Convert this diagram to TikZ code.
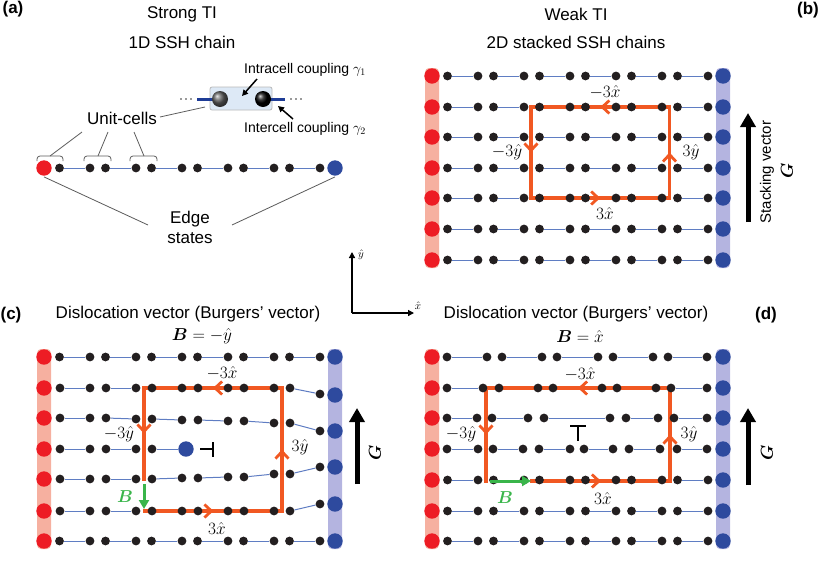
\documentclass[tikz,border=0pt]{standalone}
\usepackage{fontspec}
\setmainfont{Liberation Sans}
\usepackage{amsmath,bm}
\usetikzlibrary{arrows.meta,decorations.markings,shadings}
\pgfdeclarelayer{bars}\pgfdeclarelayer{lines}\pgfdeclarelayer{loop}\pgfdeclarelayer{top}
\pgfsetlayers{bars,lines,loop,main,top}
\definecolor{dred}{RGB}{237,28,36}
\definecolor{dblue}{RGB}{46,74,158}
\definecolor{barred}{RGB}{246,176,160}
\definecolor{barblue}{RGB}{180,180,224}
\definecolor{chainc}{RGB}{95,125,195}
\definecolor{dotk}{RGB}{35,31,32}
\definecolor{loopc}{RGB}{241,88,34}
\definecolor{greenc}{RGB}{57,181,74}
\definecolor{boxfill}{RGB}{221,233,246}
\definecolor{insetline}{RGB}{30,60,150}
\definecolor{graylinec}{RGB}{90,90,90}
\tikzset{
  bdot/.style={circle,fill=dotk,inner sep=0pt,minimum size=8.8pt},
  rdot/.style={circle,fill=dred,inner sep=0pt,minimum size=15.4pt},
  bludot/.style={circle,fill=dblue,inner sep=0pt,minimum size=15.4pt},
  chainline/.style={draw=chainc,line width=1.0pt},
  loopline/.style={draw=loopc,line width=3.3pt,line cap=rect},
  midarr/.style={postaction={decorate},decoration={markings,mark=at position 0.5 with {\arrow{Straight Barb[length=7pt,width=13pt,line width=2.8pt]}}}},
  greenarr/.style={draw=greenc,line width=3pt,-{Triangle[length=9pt,width=10pt]}},
  txt/.style={font=\fontsize{17}{20}\selectfont,inner sep=0pt},
  smalltxt/.style={font=\fontsize{14}{17}\selectfont,inner sep=0pt},
  plbl/.style={font=\fontsize{17}{20}\selectfont\bfseries,inner sep=0pt},
  mlbl/.style={font=\fontsize{17}{20}\selectfont,inner sep=0pt},
  gline/.style={draw=graylinec,line width=0.8pt},
  barR/.style={fill=barred,rounded corners=4pt},
  barB/.style={fill=barblue,rounded corners=4pt},
  garrow/.style={draw=black,line width=5pt,-{Triangle[length=14pt,width=15pt]}},
  kaxis/.style={draw=black,line width=1.3pt,-{Triangle[length=6pt,width=6pt]}},
  symline/.style={draw=black,line width=1.6pt}
}
\newcommand\linkrow[2]{\begin{pgfonlayer}{lines}\foreach \pp/\qq in {#2}{\draw[chainline] (#1-\pp) -- (#1-\qq);}\end{pgfonlayer}}
\newcommand\blackrow[2]{\foreach \ii/\xx/\yy in {#2}{\node[bdot] (#1-\ii) at (\xx,\yy) {};}}
\newcommand\normrow[3]{%
  \node[rdot] (#1-0) at (#2,#3) {};
  \foreach \ii/\dx in {1/15.5,2/46,3/61.5,4/92,5/107.5,6/138,7/153.5,8/184,9/199.5,10/230,11/245.5,12/276}{%
    \node[bdot] (#1-\ii) at ({#2+\dx},#3) {};}
  \node[bludot] (#1-13) at ({#2+291},#3) {};
  \linkrow{#1}{1/2,3/4,5/6,7/8,9/10,11/12}}
\begin{document}
\begin{tikzpicture}[x=1pt,y=-1pt]
\useasboundingbox (0,0) rectangle (830,584);

% ---------------- Panel (a) ----------------
\node[plbl] (la) at (13,9) {(a)};
\node[txt] (ta1) at (182,14) {Strong TI};
\node[txt] (ta2) at (182,42) {1D SSH chain};
\normrow{a}{44}{168}
% brackets
\draw[gline,rounded corners=3pt] (37,161) -- (37,156) -- (63,156) -- (63,161);
\draw[gline,rounded corners=3pt] (84,161) -- (84,156) -- (111,156) -- (111,161);
\draw[gline,rounded corners=3pt] (130,161) -- (130,156) -- (157,156) -- (157,161);
\node[txt] (uc) at (122,118) {Unit-cells};
\coordinate (uc1) at (82,132); \coordinate (bk1) at (50,156);
\coordinate (uc2) at (108,132); \coordinate (bk2) at (98,156);
\coordinate (uc3) at (134,132); \coordinate (bk3) at (144,156);
\coordinate (uc4) at (160,117); \coordinate (bx4) at (205,107);
\draw[gline] (uc1) -- (bk1); \draw[gline] (uc2) -- (bk2); \draw[gline] (uc3) -- (bk3); \draw[gline] (uc4) -- (bx4);
% inset
\node[draw=gray!55,fill=boxfill,rounded corners=2pt,line width=0.8pt,minimum width=62pt,minimum height=23pt,inner sep=0pt] (box) at (241,98.5) {};
\coordinate (il1) at (197,99); \coordinate (il2) at (220,99);
\coordinate (ir1) at (263,99); \coordinate (ir2) at (285,99);
\draw[draw=insetline,line width=3pt] (il1) -- (il2);
\draw[draw=insetline,line width=3pt] (ir1) -- (ir2);
\node[circle,minimum size=16pt,inner sep=0pt,shading=ball,ball color=gray!75!black] (s1) at (220,99) {};
\node[circle,minimum size=16pt,inner sep=0pt,shading=ball,ball color=black] (s2) at (263,99) {};
\foreach \xx in {181,186,191,291,296,301}{\fill[black!80] (\xx,99) circle (0.9pt);}
\node[smalltxt,anchor=west] (intra) at (244,70) {Intracell coupling $\gamma_1$};
\node[smalltxt,anchor=west] (inter) at (244,129) {Intercell coupling $\gamma_2$};
\coordinate (ia1) at (257,79); \coordinate (ia2) at (242,96);
\coordinate (ea1) at (293,119); \coordinate (ea2) at (278,106);
\draw[kaxis,line width=1.5pt] (ia1) -- (ia2);
\draw[kaxis,line width=1.5pt] (ea1) -- (ea2);
% edge states
\node[txt,align=center] (es) at (190,227) {Edge\\states};
\coordinate (e1) at (148,225); \coordinate (e2) at (232,225);
\draw[gline] (a-0.south) ++(0,1) -- (e1);
\draw[gline] (a-13.south) ++(0,1) -- (e2);

% axes
\coordinate (O) at (352,313); \coordinate (Oy) at (352,252); \coordinate (Ox) at (414,313);
\draw[kaxis] (O) -- (Oy);
\draw[kaxis] (O) -- (Ox);
\node[font=\fontsize{11}{13}\selectfont,inner sep=0pt] (yh) at (361,255) {$\hat{y}$};
\node[font=\fontsize{11}{13}\selectfont,inner sep=0pt] (xh) at (418,306) {$\hat{x}$};

% ---------------- Panel (b) ----------------
\node[plbl] (lb) at (808,10) {(b)};
\node[txt] (tb1) at (576,14) {Weak TI};
\node[txt] (tb2) at (576,42) {2D stacked SSH chains};
\begin{pgfonlayer}{bars}
\fill[barR] (425,68) rectangle (439,268);
\fill[barB] (716,68) rectangle (730,268);
\end{pgfonlayer}
\normrow{b1}{432}{76}
\normrow{b2}{432}{107}
\normrow{b3}{432}{137}
\normrow{b4}{432}{168}
\normrow{b5}{432}{198}
\normrow{b6}{432}{229}
\normrow{b7}{432}{260}
\coordinate (b-tl) at (531,107); \coordinate (b-tr) at (669.5,107);
\coordinate (b-br) at (669.5,198); \coordinate (b-bl) at (531,198);
\begin{pgfonlayer}{loop}
\draw[loopline,midarr] (b-tr) -- (b-tl);
\draw[loopline,midarr] (b-tl) -- (b-bl);
\draw[loopline,midarr] (b-bl) -- (b-br);
\draw[loopline,midarr] (b-br) -- (b-tr);
\end{pgfonlayer}
\node[mlbl] (bl1) at (605,92) {$-3\hat{x}$};
\node[mlbl] (bl2) at (605,213) {$3\hat{x}$};
\node[mlbl] (bl3) at (507,152) {$-3\hat{y}$};
\node[mlbl] (bl4) at (691,152) {$3\hat{y}$};
\coordinate (gb1) at (748,222); \coordinate (gb2) at (748,113);
\draw[garrow] (gb1) -- (gb2);
\node[font=\fontsize{15}{18}\selectfont,inner sep=0pt,rotate=90] (sv) at (767,172) {Stacking vector};
\node[mlbl,rotate=90] (gG) at (787,171) {$\boldsymbol{G}$};

% ---------------- Panel (c) ----------------
\node[plbl] (lc) at (11,315) {(c)};
\node[txt] (tc1) at (188,314) {Dislocation vector (Burgers' vector)};
\node[mlbl] (tc2) at (202,336) {$\boldsymbol{B}=-\hat{y}$};
\begin{pgfonlayer}{bars}
\fill[barR] (37,349) rectangle (51,549);
\fill[barB] (328,349) rectangle (342,549);
\end{pgfonlayer}
\normrow{c1}{44}{357}
% row 2
\node[rdot] (c2-0) at (44,388) {};
\blackrow{c2}{1/60/388,2/90/388,3/106/388,4/136/388,5/152/388,6/182/388,7/198/388,8/228/388,9/244/388,10/274/388,11/290/388,12/320/394}
\node[bludot] (c2-13) at (335,395) {};
\linkrow{c2}{1/2,3/4,5/6,7/8,9/10,11/12}
% row 3
\node[rdot] (c3-0) at (44,418) {};
\blackrow{c3}{1/60/418,2/90/418,3/106/418,4/136/419,5/152/419,6/182/420,7/198/420,8/228/421,9/244/421,10/274/423,11/290/423,12/320/431}
\node[bludot] (c3-13) at (335,431) {};
\linkrow{c3}{1/2,3/4,5/6,7/8,9/10,11/12}
% row 4 (terminated)
\node[rdot] (c4-0) at (44,449) {};
\blackrow{c4}{1/60/449,2/90/449,3/106/449,4/136/449,5/152/449}
\node[bludot] (c4-6) at (186,449) {};
\linkrow{c4}{1/2,3/4,5/6}
% row 5
\node[rdot] (c5-0) at (44,479) {};
\blackrow{c5}{1/60/479,2/90/479,3/106/479,4/136/479,5/152/479,6/182/478,7/198/478,8/228/477,9/244/477,10/274/474,11/290/474,12/320/467}
\node[bludot] (c5-13) at (335,467) {};
\linkrow{c5}{1/2,3/4,5/6,7/8,9/10,11/12}
% row 6
\node[rdot] (c6-0) at (44,511) {};
\blackrow{c6}{1/60/511,2/90/511,3/106/511,4/136/511,5/152/511,6/182/511,7/198/511,8/228/511,9/244/511,10/274/511,11/290/511,12/320/504}
\node[bludot] (c6-13) at (335,504) {};
\linkrow{c6}{1/2,3/4,5/6,7/8,9/10,11/12}
\normrow{c7}{44}{541}
% dislocation symbol
\draw[symline] (200,449) -- (213,449);
\draw[symline] (213,442) -- (213,457);
% loop
\coordinate (c-tl) at (144,388); \coordinate (c-tr) at (282,388);
\coordinate (c-br) at (282,511); \coordinate (c-bl) at (145,511);
\coordinate (c-le) at (144,479);
\begin{pgfonlayer}{loop}
\draw[loopline,midarr] (c-tr) -- (c-tl);
\draw[loopline,midarr] (c-tl) -- (c-le);
\draw[loopline,midarr] (c-bl) -- (c-br);
\draw[loopline,midarr] (c-br) -- (c-tr);
\end{pgfonlayer}
\coordinate (cg1) at (144,484); \coordinate (cg2) at (144,509);
\begin{pgfonlayer}{top}
\draw[greenarr] (cg1) -- (cg2);
\end{pgfonlayer}
\node[mlbl,text=greenc] (cB) at (125,497) {$\boldsymbol{B}$};
\node[mlbl] (cl1) at (222,373) {$-3\hat{x}$};
\node[mlbl] (cl2) at (217,528) {$3\hat{x}$};
\node[mlbl] (cl3) at (119,434) {$-3\hat{y}$};
\node[mlbl] (cl4) at (300,447) {$3\hat{y}$};
\coordinate (gc1) at (357,484); \coordinate (gc2) at (357,408);
\draw[garrow] (gc1) -- (gc2);
\node[mlbl,rotate=90] (cG) at (375,453) {$\boldsymbol{G}$};

% ---------------- Panel (d) ----------------
\node[plbl] (ld) at (766,315) {(d)};
\node[txt] (td1) at (576,314) {Dislocation vector (Burgers' vector)};
\node[mlbl] (td2) at (580,336) {$\boldsymbol{B}=\hat{x}$};
\begin{pgfonlayer}{bars}
\fill[barR] (425,349) rectangle (439,549);
\fill[barB] (716,349) rectangle (730,549);
\end{pgfonlayer}
% row 1
\node[rdot] (d1-0) at (432,357) {};
\blackrow{d1}{1/447/357,2/487/357,3/502/357,4/542/357,5/557/357,6/598/357,7/613/357,8/653/357,9/668/357,10/707/357}
\node[bludot] (d1-11) at (723,357) {};
\linkrow{d1}{1/2,3/4,5/6,7/8,9/10}
% row 2
\node[rdot] (d2-0) at (432,388) {};
\blackrow{d2}{1/447/388,2/483/388,3/499/388,4/538/388,5/553/388,6/602/388,7/617/388,8/656/388,9/671/388,10/707/388}
\node[bludot] (d2-11) at (723,388) {};
\linkrow{d2}{1/2,3/4,5/6,7/8,9/10}
% row 3
\node[rdot] (d3-0) at (432,418) {};
\blackrow{d3}{1/447/418,2/477/418,3/492/418,4/528/418,5/544/418,6/610/418,7/626/418,8/658/418,9/674/418,10/707/418}
\node[bludot] (d3-11) at (723,418) {};
\linkrow{d3}{1/2,3/4,5/6,7/8,9/10}
% row 4
\node[rdot] (d4-0) at (432,449) {};
\blackrow{d4}{1/447/449,2/478/449,3/493/449,4/523/449,5/539/449,6/570/449,7/584/449,8/613/449,9/629/449,10/660/449,11/677/449,12/707/449}
\node[bludot] (d4-13) at (723,449) {};
\linkrow{d4}{1/2,3/4,5/6,7/8,9/10,11/12}
\normrow{d5}{432}{480}
\normrow{d6}{432}{511}
\normrow{d7}{432}{541}
% dislocation symbol
\draw[symline] (570,426) -- (586,426);
\draw[symline] (578,426) -- (578,441);
% loop
\coordinate (d-tl) at (486,388); \coordinate (d-tr) at (670,388);
\coordinate (d-br) at (670,481); \coordinate (d-bs) at (532,481);
\coordinate (d-le) at (486,481);
\begin{pgfonlayer}{loop}
\draw[loopline,midarr] (d-tr) -- (d-tl);
\draw[loopline,midarr] (d-tl) -- (d-le);
\draw[loopline,midarr] (d-bs) -- (d-br);
\draw[loopline,midarr] (d-br) -- (d-tr);
\end{pgfonlayer}
\coordinate (dg1) at (490,481); \coordinate (dg2) at (531,481);
\begin{pgfonlayer}{top}
\draw[greenarr] (dg1) -- (dg2);
\end{pgfonlayer}
\node[mlbl,text=greenc] (dB) at (505,498) {$\boldsymbol{B}$};
\node[mlbl] (dl1) at (580,374) {$-3\hat{x}$};
\node[mlbl] (dl2) at (603,498) {$3\hat{x}$};
\node[mlbl] (dl3) at (461,434) {$-3\hat{y}$};
\node[mlbl] (dl4) at (689,434) {$3\hat{y}$};
\coordinate (gd1) at (748,485); \coordinate (gd2) at (748,408);
\draw[garrow] (gd1) -- (gd2);
\node[mlbl,rotate=90] (dG) at (767,453) {$\boldsymbol{G}$};
\end{tikzpicture}
\end{document}
